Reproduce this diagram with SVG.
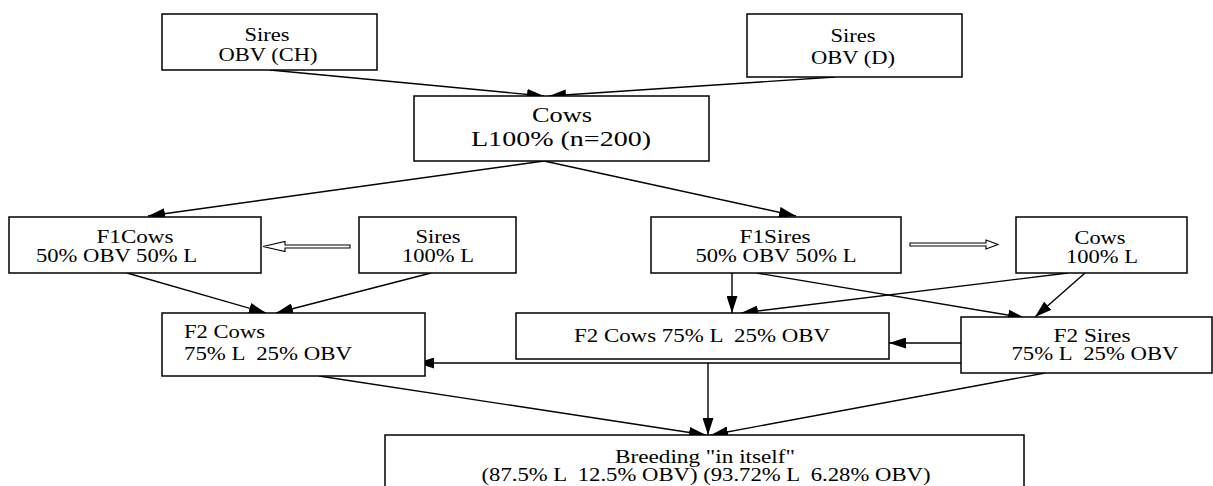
<svg xmlns="http://www.w3.org/2000/svg" width="1213" height="486" viewBox="0 0 1213 486">
<style>
.box{fill:#fff;stroke:#000;stroke-width:1.5}
.t{font-family:"Liberation Serif","Times New Roman",serif;font-size:18px;fill:#000;white-space:pre}
.big{font-size:21px}
.m{text-anchor:middle}
.c{stroke:#000;stroke-width:1.4;fill:none;marker-end:url(#ah)}
.h{fill:#fff;stroke:#000;stroke-width:1.1}
</style>
<defs>
<marker id="ah" markerUnits="userSpaceOnUse" markerWidth="17" markerHeight="11" refX="17" refY="5.5" orient="auto">
<path d="M0,0 L17,5.5 L0,11 z" fill="#000"/>
</marker>
</defs>
<rect width="1213" height="486" fill="#fff"/>
<g id="connectors">
<line class="c" x1="270" y1="70" x2="544" y2="96"/>
<line class="c" x1="835" y1="77" x2="549" y2="96"/>
<line class="c" x1="544" y1="161" x2="148" y2="216"/>
<line class="c" x1="544" y1="161" x2="796" y2="216"/>
<line class="c" x1="127" y1="273" x2="266" y2="313"/>
<line class="c" x1="431" y1="273" x2="276" y2="313"/>
<line class="c" x1="732" y1="273" x2="732" y2="313"/>
<line class="c" x1="1068" y1="273" x2="741" y2="313"/>
<line class="c" x1="757" y1="273" x2="1025" y2="318"/>
<line class="c" x1="1085" y1="273" x2="1035" y2="317"/>
<line class="c" x1="961" y1="343" x2="889" y2="343"/>
<line class="c" x1="961" y1="363" x2="417" y2="363"/>
<line class="c" x1="708" y1="363" x2="708" y2="435"/>
<line class="c" x1="319" y1="376" x2="706" y2="435"/>
<line class="c" x1="1045" y1="373" x2="711" y2="435"/>
<polygon class="h" points="263,246.5 285,241.5 285,245 350,245 350,248 285,248 285,251.5"/>
<polygon class="h" points="910,243 986,243 986,240 998,244.5 986,249 986,246 910,246"/>
</g>
<g id="sires-ch">
<rect class="box" x="162" y="14" width="215" height="56"/>
<text class="t m" x="267" y="41" textLength="45" lengthAdjust="spacingAndGlyphs">Sires</text>
<text class="t m" x="268" y="61" textLength="99" lengthAdjust="spacingAndGlyphs">OBV (CH)</text>
</g>
<g id="sires-d">
<rect class="box" x="747" y="14" width="215" height="63"/>
<text class="t m" x="853" y="42" textLength="45" lengthAdjust="spacingAndGlyphs">Sires</text>
<text class="t m" x="853" y="64" textLength="84" lengthAdjust="spacingAndGlyphs">OBV (D)</text>
</g>
<g id="cows-l100">
<rect class="box" x="414" y="96" width="295" height="65"/>
<text class="t big m" x="562" y="122" textLength="60" lengthAdjust="spacingAndGlyphs">Cows</text>
<text class="t big m" x="561" y="146" textLength="180" lengthAdjust="spacingAndGlyphs">L100% (n=200)</text>
</g>
<g id="f1cows">
<rect class="box" x="9" y="217" width="252" height="56"/>
<text class="t m" x="135" y="243" textLength="77" lengthAdjust="spacingAndGlyphs">F1Cows</text>
<text class="t" x="36" y="262" textLength="161" lengthAdjust="spacingAndGlyphs">50% OBV 50% L</text>
</g>
<g id="sires-100l">
<rect class="box" x="359" y="217" width="157" height="56"/>
<text class="t m" x="438" y="243" textLength="45" lengthAdjust="spacingAndGlyphs">Sires</text>
<text class="t m" x="438" y="262" textLength="72" lengthAdjust="spacingAndGlyphs">100% L</text>
</g>
<g id="f1sires">
<rect class="box" x="651" y="217" width="250" height="56"/>
<text class="t m" x="775" y="243" textLength="71" lengthAdjust="spacingAndGlyphs">F1Sires</text>
<text class="t m" x="776" y="262" textLength="161" lengthAdjust="spacingAndGlyphs">50% OBV 50% L</text>
</g>
<g id="cows-100l">
<rect class="box" x="1016" y="217" width="171" height="56"/>
<text class="t m" x="1100" y="244" textLength="51" lengthAdjust="spacingAndGlyphs">Cows</text>
<text class="t m" x="1102" y="263" textLength="72" lengthAdjust="spacingAndGlyphs">100% L</text>
</g>
<g id="f2cows-left">
<rect class="box" x="162" y="313" width="263" height="63"/>
<text class="t" x="184" y="338" textLength="81" lengthAdjust="spacingAndGlyphs">F2 Cows</text>
<text class="t" x="184" y="360" textLength="168" lengthAdjust="spacingAndGlyphs">75% L  25% OBV</text>
</g>
<g id="f2cows-mid">
<rect class="box" x="516" y="313" width="373" height="46"/>
<text class="t m" x="702" y="342" textLength="256" lengthAdjust="spacingAndGlyphs">F2 Cows 75% L  25% OBV</text>
</g>
<g id="f2sires">
<rect class="box" x="961" y="317" width="251" height="56"/>
<text class="t m" x="1092" y="342" textLength="77" lengthAdjust="spacingAndGlyphs">F2 Sires</text>
<text class="t m" x="1095" y="360" textLength="167" lengthAdjust="spacingAndGlyphs">75% L  25% OBV</text>
</g>
<g id="breeding">
<rect class="box" x="385" y="435" width="639" height="70"/>
<text class="t m" x="705" y="463" textLength="180" lengthAdjust="spacingAndGlyphs">Breeding "in itself"</text>
<text class="t m" x="706" y="481" textLength="449" lengthAdjust="spacingAndGlyphs">(87.5% L  12.5% OBV) (93.72% L  6.28% OBV)</text>
</g>
</svg>
